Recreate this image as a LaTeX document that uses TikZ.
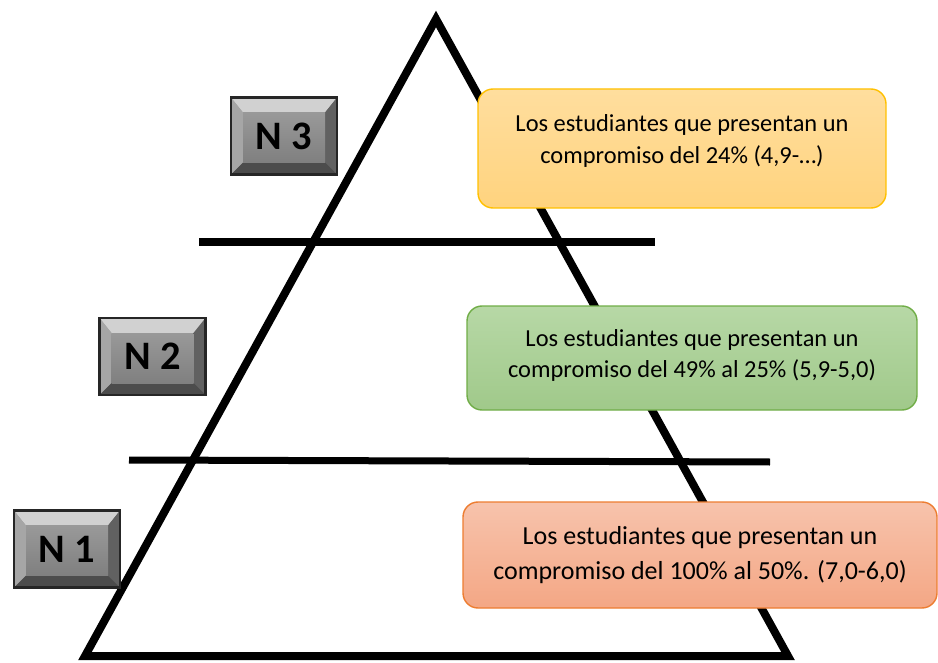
\documentclass[tikz,border=0pt]{standalone}
\usepackage{fontspec}
\setmainfont{Carlito}
\usepackage{xcolor}
\usepackage{tikz}
\usetikzlibrary{positioning,calc}

\definecolor{goldline}{HTML}{FFC000}
\definecolor{goldtop}{HTML}{FFDE9E}
\definecolor{goldbot}{HTML}{FFD37E}
\definecolor{greenline}{HTML}{70AD47}
\definecolor{greentop}{HTML}{B7D8A6}
\definecolor{greenbot}{HTML}{A0C98A}
\definecolor{orangeline}{HTML}{ED7D31}
\definecolor{orangetop}{HTML}{F7C3AC}
\definecolor{orangebot}{HTML}{F4A785}

\begin{document}
\begin{tikzpicture}[
					levelbtn/.style={
						draw=black!85, line width=1.2pt,
						minimum width=2.12cm, minimum height=1.54cm, inner sep=0pt,
						top color=black!38, bottom color=black!52,
						font=\fontsize{23}{26}\selectfont\bfseries,
						path picture={
							\coordinate (pnw) at (path picture bounding box.north west);
							\coordinate (pne) at (path picture bounding box.north east);
							\coordinate (psw) at (path picture bounding box.south west);
							\coordinate (pse) at (path picture bounding box.south east);
							\fill[black!18] (pnw) -- (pne) -- ($(pne)+(-0.24,-0.3)$) -- ($(pnw)+(0.24,-0.3)$) -- cycle;
							\fill[black!35] (pnw) -- ($(pnw)+(0.24,-0.3)$) -- ($(psw)+(0.24,0.24)$) -- (psw) -- cycle;
							\fill[black!62] (pne) -- ($(pne)+(-0.24,-0.3)$) -- ($(pse)+(-0.24,0.24)$) -- (pse) -- cycle;
							\fill[black!70] (psw) -- ($(psw)+(0.24,0.24)$) -- ($(pse)+(-0.24,0.24)$) -- (pse) -- cycle;
							\fill[top color=black!40, bottom color=black!50] ($(pnw)+(0.24,-0.3)$) rectangle ($(pse)+(-0.24,0.24)$);
						}
					},
					infobox/.style={
						rounded corners=0.3cm, line width=0.8pt,
						inner sep=0pt
					},
					infotext/.style={
						align=center, inner sep=0pt,
						font=\fontsize{13.9}{17.8}\selectfont
					},
					level line/.style={line width=0.14cm}
					]
					
					\useasboundingbox (0,0) rectangle (18.76,13.24);
					
					% --- pirámide ---
					\coordinate (apex) at (8.72,12.86);
					\coordinate (baseL) at (1.70,0.12);
					\coordinate (baseR) at (15.76,0.12);
					\draw[line width=0.16cm, miter limit=10] (apex) -- (baseR) -- (baseL) -- cycle;
					
					% --- líneas entre niveles ---
					\draw[level line] (3.98,8.40) -- (13.10,8.40);
					\draw[level line] (2.58,4.04) -- (15.40,4.00);
					
					% --- botones de nivel ---
					\node[levelbtn] (n3) at (5.68,10.52) {N 3};
					\node[levelbtn] (n2) at (3.05,6.11) {N 2};
					\node[levelbtn] (n1) at (1.34,2.26) {N 1};
					
					% --- cuadros de texto ---
					\node[infobox, draw=goldline, top color=goldtop, bottom color=goldbot,
						minimum width=8.16cm, minimum height=2.38cm] (box3) at (13.64,10.27) {};
					\node[infotext] (txt3) at ([yshift=0.15cm]box3.center)
						{Los estudiantes que presentan un\\compromiso del 24\% (4,9-…)};
					
					\node[infobox, draw=greenline, top color=greentop, bottom color=greenbot,
						minimum width=9.00cm, minimum height=2.08cm] (box2) at (13.84,6.08) {};
					\node[infotext] (txt2) at ([yshift=0.05cm]box2.center)
						{Los estudiantes que presentan un\\compromiso del 49\% al 25\% (5,9-5,0)};
					
					\node[infobox, draw=orangeline, top color=orangetop, bottom color=orangebot,
						minimum width=9.48cm, minimum height=2.12cm] (box1) at (14.00,2.14) {};
					\node[infotext, font=\fontsize{14.8}{20}\selectfont] (txt1) at (box1.center)
						{Los estudiantes que presentan un\\compromiso del 100\% al 50\%. (7,0-6,0)};
					
				\end{tikzpicture}
\end{document}
